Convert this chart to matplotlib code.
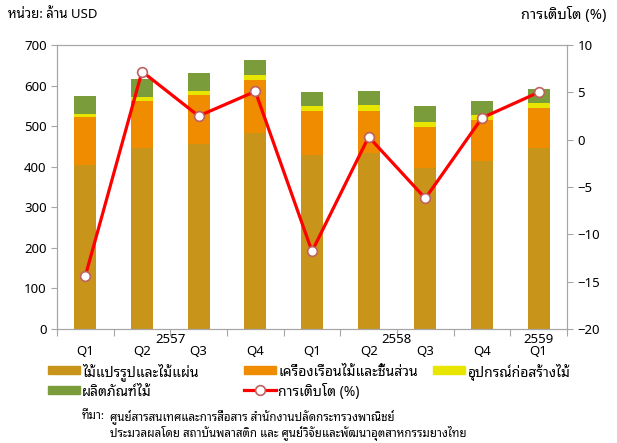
import matplotlib
matplotlib.use('Agg')
import matplotlib.pyplot as plt
from matplotlib.patches import Rectangle
from matplotlib.lines import Line2D
from matplotlib.transforms import blended_transform_factory
import numpy as np

plt.rcParams['font.family'] = ['Noto Sans', 'Noto Sans Thai Looped', 'DejaVu Sans']
thai = ['Noto Sans Thai Looped', 'Noto Sans', 'DejaVu Sans']

quarters = ['Q1', 'Q2', 'Q3', 'Q4', 'Q1', 'Q2', 'Q3', 'Q4', 'Q1']
years = ['2557', '2558', '2559']
year_pos = [1.5, 5.5, 8]

# million USD
lumber = [403, 445, 457, 484, 429, 434, 397, 415, 445]
furniture = [119, 117, 120, 129, 109, 104, 101, 99, 99]
construction = [8, 11, 10, 13, 12, 14, 13, 13, 14]
products = [45, 44, 45, 38, 34, 35, 39, 35, 33]
# growth %
growth = [-14.4, 7.2, 2.5, 5.1, -11.8, 0.3, -6.2, 2.3, 5.0]

names = ['ไม้แปรรูปและไม้แผ่น', 'เครื่องเรือนไม้และชิ้นส่วน', 'อุปกรณ์ก่อสร้างไม้',
         'ผลิตภัณฑ์ไม้', 'การเติบโต (%)']
colors = ['#C8951A', '#F08C00', '#E8E600', '#7B9C3A']

W, H = 617, 443
fig = plt.figure(figsize=(W / 100, H / 100), dpi=100)
ax = fig.add_axes([57 / W, 114 / H, 510 / W, 284 / H])
ax2 = ax.twinx()


def fx(px):
    return px / W


def fy(py):
    return 1 - py / H


x = np.arange(len(quarters))
w = 0.39
bottom = np.zeros(len(x))
for vals, c in zip([lumber, furniture, construction, products], colors):
    ax.bar(x, vals, w, bottom=bottom, color=c, zorder=2)
    bottom += np.array(vals)

line_style = dict(color='#FF0000', lw=2.3, marker='o', ms=7,
                  mfc='white', mec='#C06060', mew=1.2)
ax2.plot(x, growth, zorder=3, **line_style)

ax.set_xlim(-0.5, 8.5)
ax.set_ylim(0, 700)
ax.set_yticks(range(0, 701, 100))
ax2.set_ylim(-20, 10)
ax2.set_yticks(range(-20, 11, 5))

for a in (ax, ax2):
    for s in a.spines.values():
        s.set_color('#A6A6A6')
    a.tick_params(colors='#A6A6A6', labelcolor='black', labelsize=9.5, length=4, width=0.8)

ax.set_xticks(np.arange(-0.5, 9, 1))
ax.set_xticklabels([])
ax.tick_params(axis='x', length=5)

tr = blended_transform_factory(ax.transData, ax.transAxes)
for xi, q in zip(x, quarters):
    ax.text(xi, -0.078, q, transform=tr, ha='center', va='center', fontsize=9.5)
for xp, yr in zip(year_pos, years):
    ax.text(xp, -0.036, yr, transform=tr, ha='center', va='center', fontsize=9.5)

fig.text(fx(8), fy(15), 'หน่วย: ล้าน USD', ha='left', va='center', fontsize=9.5)
fig.text(fx(606), fy(15), 'การเติบโต (%)', ha='right', va='center',
         fontsize=10.5, family=thai)

# legend, laid out by hand like the Excel one
legend_items = [(48, 370, 'patch', colors[0], names[0]),
                (244, 370, 'patch', colors[1], names[1]),
                (433, 370, 'patch', colors[2], names[2]),
                (48, 390, 'patch', colors[3], names[3]),
                (244, 390, 'line', None, names[4])]
for lx, ly, kind, c, label in legend_items:
    if kind == 'patch':
        fig.patches.append(Rectangle((fx(lx), fy(ly + 4)), 32 / W, 8 / H,
                                     transform=fig.transFigure, color=c))
    else:
        fig.lines.append(Line2D([fx(lx), fx(lx + 32)], [fy(ly), fy(ly)],
                                transform=fig.transFigure, color='#FF0000', lw=2.3))
        fig.lines.append(Line2D([fx(lx + 16)], [fy(ly)], transform=fig.transFigure,
                                ls='none', marker='o', ms=7, mfc='white',
                                mec='#C06060', mew=1.2))
    fig.text(fx(lx + 34), fy(ly), label, ha='left', va='center_baseline',
             fontsize=10, family=thai)

fig.text(fx(82), fy(415), 'ที่มา:', fontsize=8.3, fontweight='bold',
         va='center_baseline', family=thai)
fig.text(fx(110), fy(415), 'ศูนย์สารสนเทศและการสื่อสาร สำนักงานปลัดกระทรวงพาณิชย์',
         fontsize=8.3, va='center_baseline', family=thai)
fig.text(fx(110), fy(431),
         'ประมวลผลโดย สถาบันพลาสติก และ ศูนย์วิจัยและพัฒนาอุตสาหกรรมยางไทย',
         fontsize=8.3, va='center_baseline', family=thai)

fig.savefig('out.png')
